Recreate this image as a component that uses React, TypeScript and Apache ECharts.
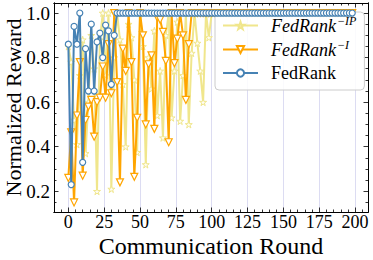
import React, { useEffect, useRef } from 'react';
import * as echarts from 'echarts';

const rounds = [
  0, 2, 4, 6, 8, 10, 12, 14, 16, 18,
  20, 22, 24, 26, 28, 30, 32, 34, 36, 38,
  40, 42, 44, 46, 48, 50, 52, 54, 56, 58,
  60, 62, 64, 66, 68, 70, 72, 74, 76, 78,
  80, 82, 84, 86, 88, 90, 92, 94, 96, 98,
  100, 102, 104, 106, 108, 110, 112, 114, 116, 118,
  120, 122, 124, 126, 128, 130, 132, 134, 136, 138,
  140, 142, 144, 146, 148, 150, 152, 154, 156, 158,
  160, 162, 164, 166, 168, 170, 172, 174, 176, 178,
  180, 182, 184, 186, 188, 190, 192, 194, 196, 198,
];

const fedRankIP = [
  0.85, 0.78, 0.52, 0.41, 0.72, 0.88, 0.37, 0.6, 0.9, 0.75,
  0.2, 0.88, 1.0, 0.72, 1.0, 0.21, 0.8, 1.0, 0.88, 0.68,
  0.4, 0.95, 0.89, 0.7, 0.375, 1.0, 0.85, 0.32, 0.8, 0.66,
  0.92, 0.54, 0.74, 0.44, 0.9, 1.0, 0.53, 0.74, 0.96, 0.515,
  0.72, 1.0, 0.5, 0.82, 1.0, 0.865, 0.74, 0.6, 1.0, 0.89,
  1, 1, 1, 1, 1, 1, 1, 1, 1, 1,
  1, 1, 1, 1, 1, 1, 1, 1, 1, 1,
  1, 1, 1, 1, 1, 1, 1, 1, 1, 1,
  1, 1, 1, 1, 1, 1, 1, 1, 1, 1,
  1, 1, 1, 1, 1, 1, 1, 1, 1, 1,
];

const fedRankI = [
  0.26, 0.465, 0.15, 0.54, 0.78, 0.27, 0.52, 0.58, 0.61, 0.445,
  0.6, 0.62, 0.76, 0.62, 0.86, 0.64, 1.0, 0.69, 0.24, 0.84,
  0.74, 1.0, 0.78, 0.265, 0.53, 1.0, 0.9, 0.5, 0.77, 0.81,
  0.48, 0.98, 0.97, 0.915, 0.785, 0.42, 1.0, 0.775, 0.885, 1.0,
  0.9, 0.61, 0.86, 1, 1, 1, 1, 1, 1, 1,
  1, 1, 1, 1, 1, 1, 1, 1, 1, 1,
  1, 1, 1, 1, 1, 1, 1, 1, 1, 1,
  1, 1, 1, 1, 1, 1, 1, 1, 1, 1,
  1, 1, 1, 1, 1, 1, 1, 1, 1, 1,
  1, 1, 1, 1, 1, 1, 1, 1, 1, 1,
];

const fedRank = [
  0.86, 0.23, 0.94, 0.86, 1.0, 0.33, 0.84, 0.65, 0.95, 0.65,
  0.87, 0.91, 0.8, 0.946, 0.92, 0.68, 0.9, 1, 1, 1,
  1, 1, 1, 1, 1, 1, 1, 1, 1, 1,
  1, 1, 1, 1, 1, 1, 1, 1, 1, 1,
  1, 1, 1, 1, 1, 1, 1, 1, 1, 1,
  1, 1, 1, 1, 1, 1, 1, 1, 1, 1,
  1, 1, 1, 1, 1, 1, 1, 1, 1, 1,
  1, 1, 1, 1, 1, 1, 1, 1, 1, 1,
  1, 1, 1, 1, 1, 1, 1, 1, 1, 1,
  1, 1, 1, 1, 1, 1, 1, 1, 1, 1,
];

const seriesNames = ['FedRank-IP', 'FedRank-I', 'FedRank'];
const xMajorTicks = [0, 25, 50, 75, 100, 125, 150, 175, 200];
const xMinorTicks = [
  -5, 5, 10, 15, 20, 30, 35, 40, 45, 55, 60, 65, 70, 80, 85, 90, 95,
  105, 110, 115, 120, 130, 135, 140, 145, 155, 160, 165, 170, 180, 185, 190, 195, 205,
];
const yMajorTicks = [0.2, 0.4, 0.6, 0.8, 1.0];
const yMinorTicks = [0.15, 0.25, 0.3, 0.35, 0.45, 0.5, 0.55, 0.65, 0.7, 0.75, 0.85, 0.9, 0.95];

const X_MIN = -10;
const X_MAX = 209;
const Y_MIN = 0.107;
const Y_MAX = 1.045;

const FONT = '"Liberation Serif", "Times New Roman", "DejaVu Serif", serif';
const STAR = 'path://M50,0 L61,35 L98,35 L68,57 L79,91 L50,70 L21,91 L32,57 L2,35 L39,35 Z';

const C_IP = '#F0E68C';
const C_I = '#FFA500';
const C_R = '#4682B4';

function xAxisDef(position: 'bottom' | 'top', major: boolean, primary: boolean) {
  return {
    type: 'value',
    position,
    min: X_MIN,
    max: X_MAX,
    axisLine: { show: true, onZero: false, lineStyle: { color: '#000', width: 1 } },
    axisTick: {
      show: true,
      inside: true,
      length: major ? 4.5 : 2.5,
      customValues: major ? xMajorTicks : xMinorTicks,
      lineStyle: { color: '#000', width: 0.8 },
    },
    axisLabel: primary
      ? {
          show: true,
          customValues: xMajorTicks,
          margin: 1,
          fontFamily: FONT,
          fontSize: 18,
          color: '#000',
          formatter: (v: number) => String(v),
        }
      : { show: false },
    splitLine: primary
      ? { show: true, lineStyle: { color: '#DCDCF2', width: 1 } }
      : { show: false },
    name: primary ? 'Communication Round' : '',
    nameLocation: 'middle',
    nameGap: 22,
    nameMoveOverlap: false,
    nameTextStyle: { fontFamily: FONT, fontSize: 24, color: '#000' },
  };
}

function yAxisDef(position: 'left' | 'right', major: boolean, primary: boolean) {
  return {
    type: 'value',
    position,
    min: Y_MIN,
    max: Y_MAX,
    axisLine: { show: true, onZero: false, lineStyle: { color: '#000', width: 1 } },
    axisTick: {
      show: true,
      inside: true,
      length: major ? 4.5 : 2.5,
      customValues: major ? yMajorTicks : yMinorTicks,
      lineStyle: { color: '#000', width: 0.8 },
    },
    axisLabel: primary
      ? {
          show: true,
          customValues: yMajorTicks,
          margin: 4,
          fontFamily: FONT,
          fontSize: 19,
          color: '#000',
          formatter: (v: number) => v.toFixed(1),
        }
      : { show: false },
    splitLine: { show: false },
    name: primary ? 'Normalized Reward' : '',
    nameLocation: 'middle',
    nameRotate: 90,
    nameGap: 30,
    nameMoveOverlap: false,
    nameTextStyle: { fontFamily: FONT, fontSize: 22, color: '#000' },
  };
}

export default function App() {
  const ref = useRef<HTMLDivElement>(null);

  useEffect(() => {
    if (!ref.current) return;
    const chart = echarts.init(ref.current, null, { renderer: 'svg' });

    const toPairs = (vals: number[]) => rounds.map((r, i) => [r, vals[i]]);

    chart.setOption({
      animation: false,
      backgroundColor: '#fff',
      textStyle: { fontFamily: FONT },
      grid: {
        left: 54,
        right: 5,
        top: 3,
        bottom: 48,
        containLabel: false,
        outerBoundsMode: 'none',
      },
      xAxis: [
        xAxisDef('bottom', true, true),
        xAxisDef('bottom', false, false),
        xAxisDef('top', true, false),
        xAxisDef('top', false, false),
      ],
      yAxis: [
        yAxisDef('left', true, true),
        yAxisDef('left', false, false),
        yAxisDef('right', true, false),
        yAxisDef('right', false, false),
      ],
      legend: {
        orient: 'vertical',
        left: 215,
        top: 12,
        data: seriesNames,
        itemWidth: 35,
        itemHeight: 9,
        itemGap: 3.5,
        padding: [3, 8, 7, 7],
        backgroundColor: 'rgba(255,255,255,0.85)',
        borderColor: '#cccccc',
        borderWidth: 1,
        borderRadius: 4,
        formatter: (name: string) => {
          if (name === 'FedRank-IP') return '{it|FedRank}{sup|−IP}';
          if (name === 'FedRank-I') return '{it|FedRank}{sup|−I}';
          return '{rm|FedRank}';
        },
        textStyle: {
          fontFamily: FONT,
          fontSize: 18,
          lineHeight: 20,
          color: '#000',
          padding: [0, 0, 0, 8],
          rich: {
            it: { fontFamily: FONT, fontStyle: 'italic', fontSize: 18, color: '#000' },
            sup: {
              fontFamily: FONT,
              fontStyle: 'italic',
              fontSize: 12,
              color: '#000',
              padding: [0, 0, 9, 1],
            },
            rm: { fontFamily: FONT, fontSize: 18, color: '#000' },
          },
        },
      },
      series: [
        {
          name: seriesNames[0],
          type: 'line',
          xAxisIndex: 0,
          yAxisIndex: 0,
          data: toPairs(fedRankIP),
          symbol: STAR,
          symbolSize: 7,
          z: 2,
          lineStyle: { color: C_IP, width: 2 },
          itemStyle: { color: '#FFFDF0', borderColor: C_IP, borderWidth: 1 },
          color: C_IP,
        },
        {
          name: seriesNames[1],
          type: 'line',
          xAxisIndex: 0,
          yAxisIndex: 0,
          data: toPairs(fedRankI),
          symbol: 'triangle',
          symbolRotate: 180,
          symbolSize: 7,
          z: 3,
          lineStyle: { color: C_I, width: 2 },
          itemStyle: { color: '#fff', borderColor: C_I, borderWidth: 1.2 },
          color: C_I,
        },
        {
          name: seriesNames[2],
          type: 'line',
          xAxisIndex: 0,
          yAxisIndex: 0,
          data: toPairs(fedRank),
          symbol: 'circle',
          symbolSize: 6,
          z: 4,
          lineStyle: { color: C_R, width: 2 },
          itemStyle: { color: '#fff', borderColor: C_R, borderWidth: 1.2 },
          color: C_R,
        },
      ],
    });

    return () => chart.dispose();
  }, []);

  return (
    <div
      ref={ref}
      style={{ position: 'fixed', left: 0, top: 0, width: 373, height: 260, background: '#fff' }}
    />
  );
}
